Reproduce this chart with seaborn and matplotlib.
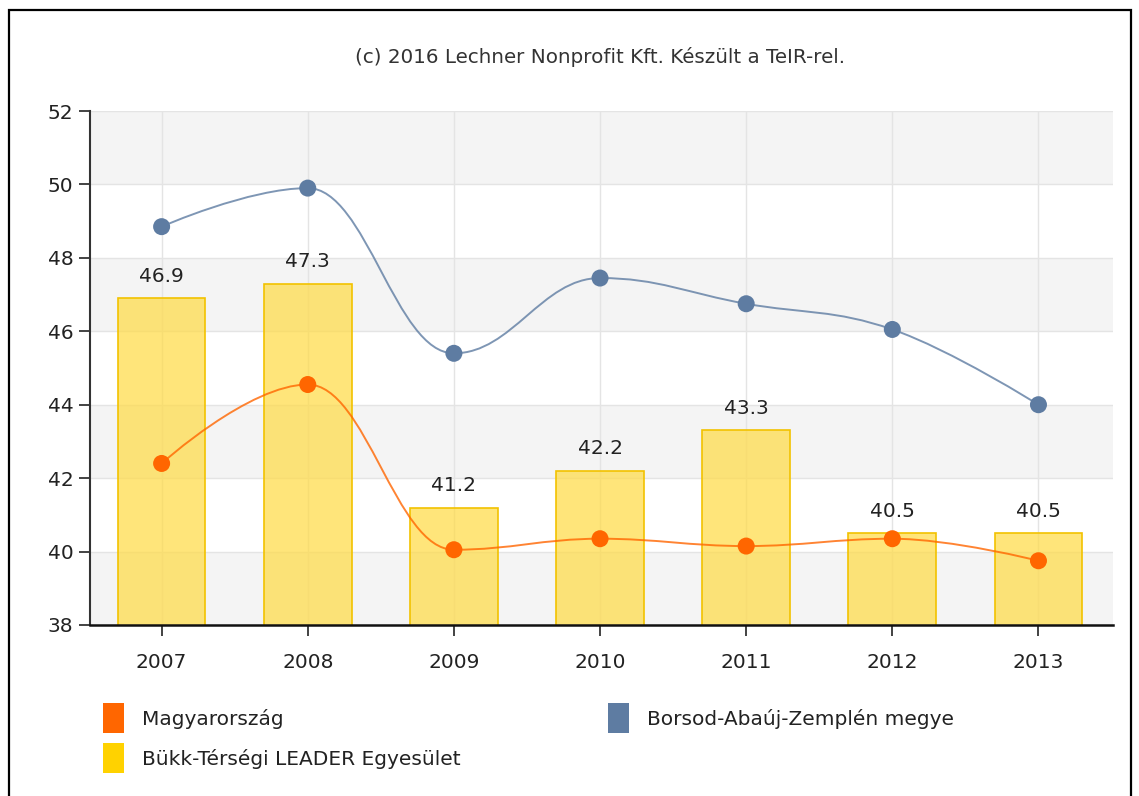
import numpy as np
import pandas as pd
import matplotlib
matplotlib.use("Agg")
import matplotlib.pyplot as plt
from matplotlib.path import Path
from matplotlib.patches import PathPatch, Rectangle, Patch
import seaborn as sns

years = ["2007", "2008", "2009", "2010", "2011", "2012", "2013"]
bukk = [46.9, 47.3, 41.2, 42.2, 43.3, 40.5, 40.5]
magyar = [42.4, 44.55, 40.05, 40.35, 40.15, 40.35, 39.75]
borsod = [48.85, 49.9, 45.4, 47.45, 46.75, 46.05, 44.0]
yticks = [38, 40, 42, 44, 46, 48, 50, 52]

title = "(c) 2016 Lechner Nonprofit Kft. Készült a TeIR-rel."
lab_magyar = "Magyarország"
lab_borsod = "Borsod-Abaúj-Zemplén megye"
lab_bukk = "Bükk-Térségi LEADER Egyesület"

c_orange = "#FF6600"
c_blue = "#5E7CA2"
c_yellow = "#FFD200"

sns.set_theme(style="white")
plt.rcParams['font.family'] = ['DejaVu Sans']

fig = plt.figure(figsize=(11.39, 7.96), dpi=100)
ax = fig.add_axes([90/1139, 1-625/796, (1113-90)/1139, (625-111)/796])

df = pd.DataFrame({"year": years, "value": bukk})

# background bands
for lo in range(38, 52, 4):
    ax.axhspan(lo, lo + 2, color="#F4F4F4", zorder=0, lw=0)
for yv in yticks:
    ax.axhline(yv, color="#E4E4E4", lw=1, zorder=0.5)
for i in range(len(years)):
    ax.axvline(i, color="#E4E4E4", lw=1, zorder=0.5)

sns.barplot(data=df, x="year", y="value", ax=ax, color=c_yellow, width=0.6,
            edgecolor="#F2C200", linewidth=1.2, zorder=2, saturation=1)
for bar in ax.containers[0]:
    bar.set_edgecolor("#F2C200")
    bar.set_facecolor((1.0, 0.86, 0.28, 0.72))

for i, v in enumerate(bukk):
    ax.annotate(f"{v:.1f}", (i, v), xytext=(0, 9), textcoords="offset points",
                ha="center", va="bottom", fontsize=14.5, color="#222222", zorder=5)


def spline_path(xs, ys, smoothing=1.5):
    n = len(xs)
    denom = smoothing + 1
    lc = [(x, y) for x, y in zip(xs, ys)]
    rc = [(x, y) for x, y in zip(xs, ys)]
    for i in range(1, n - 1):
        px, py = xs[i], ys[i]
        lx, ly = xs[i-1], ys[i-1]
        nx, ny = xs[i+1], ys[i+1]
        lcx = (smoothing * px + lx) / denom
        lcy = (smoothing * py + ly) / denom
        rcx = (smoothing * px + nx) / denom
        rcy = (smoothing * py + ny) / denom
        if rcx != lcx:
            corr = ((rcy - lcy) * (rcx - px)) / (rcx - lcx) + py - rcy
            lcy += corr
            rcy += corr
        if lcy > ly and lcy > py:
            lcy = max(ly, py); rcy = 2 * py - lcy
        elif lcy < ly and lcy < py:
            lcy = min(ly, py); rcy = 2 * py - lcy
        if rcy > ny and rcy > py:
            rcy = max(ny, py); lcy = 2 * py - rcy
        elif rcy < ny and rcy < py:
            rcy = min(ny, py); lcy = 2 * py - rcy
        lc[i] = (lcx, lcy)
        rc[i] = (rcx, rcy)
    verts = [(xs[0], ys[0])]
    codes = [Path.MOVETO]
    for i in range(1, n):
        verts += [rc[i-1], lc[i], (xs[i], ys[i])]
        codes += [Path.CURVE4] * 3
    return Path(verts, codes)


xs = list(range(len(years)))
for vals, col in [(borsod, c_blue), (magyar, c_orange)]:
    p = spline_path(xs, vals)
    ax.add_patch(PathPatch(p, facecolor="none", edgecolor=col, lw=1.4, alpha=0.8, zorder=3))
    sns.scatterplot(x=xs, y=vals, ax=ax, color=col, s=150, edgecolor="none", zorder=4)

ax.set_xlim(-0.49, 6.51)
ax.set_ylim(38, 52)
ax.set_yticks(yticks)
ax.set_yticklabels([str(t) for t in yticks])
ax.set_xticks(xs)
ax.set_xticklabels(years)
ax.set_xlabel("")
ax.set_ylabel("")
ax.tick_params(axis="both", labelsize=14.5, colors="#222222", length=8, width=1.2,
               direction="out")
ax.tick_params(axis="x", pad=12)
ax.tick_params(axis="y", pad=4)
for s in ["top", "right"]:
    ax.spines[s].set_visible(False)
ax.spines["left"].set_color("#333333")
ax.spines["left"].set_linewidth(1.5)
ax.spines["bottom"].set_color("#111111")
ax.spines["bottom"].set_linewidth(1.8)
ax.yaxis.set_ticks_position("left")
ax.xaxis.set_ticks_position("bottom")
for t in ax.yaxis.get_major_ticks():
    t.tick1line.set_color("#333333")

fig.text(600/1139, 1-57/796, title, ha="center", va="center", fontsize=14.3, color="#333333")

handles = [Patch(facecolor=c_orange, edgecolor="none"),
           Patch(facecolor=c_yellow, edgecolor="none"),
           Patch(facecolor=c_blue, edgecolor="none")]
labels = [lab_magyar, lab_bukk, lab_borsod]
fig.legend(handles, labels, loc="upper left", bbox_to_anchor=(103/1139, 1-703/796),
           ncol=2, frameon=False, fontsize=14.5, handlelength=1.05, handleheight=1.93,
           handletextpad=0.9, columnspacing=7.3, labelspacing=0.5, borderpad=0,
           borderaxespad=0, labelcolor="#222222")

fig.add_artist(Rectangle((9/1139, -0.02), (1131-9)/1139, 1.02 - 10/796,
                         transform=fig.transFigure, fill=False, edgecolor="black",
                         lw=1.6, clip_on=False))

fig.savefig("out.png", dpi=100)
